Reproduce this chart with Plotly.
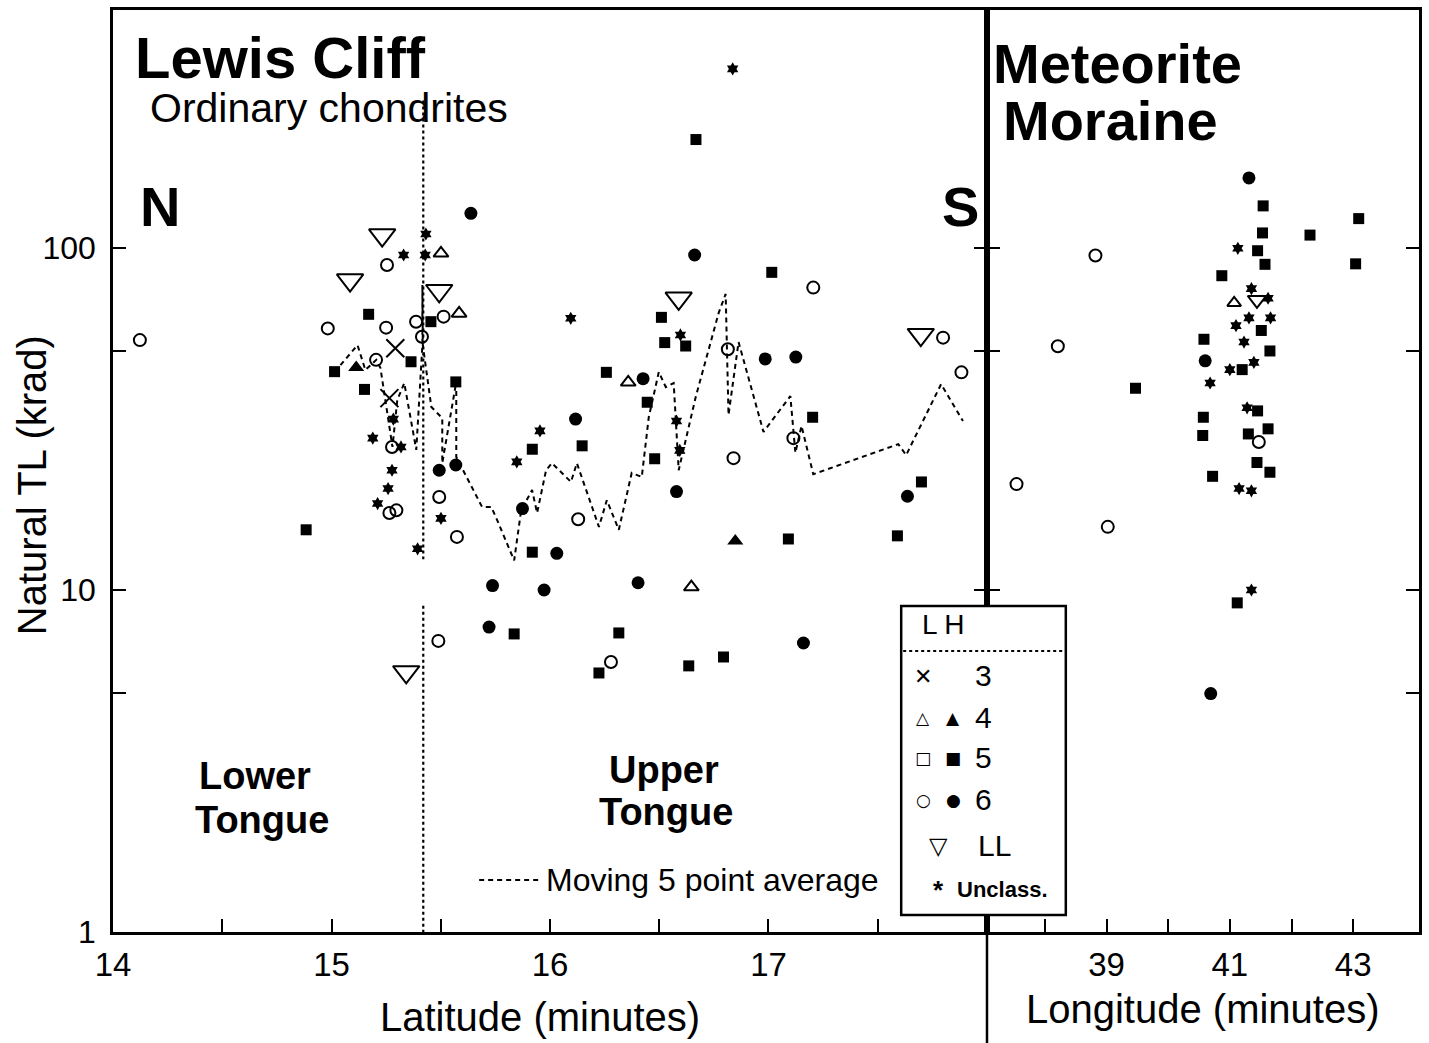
import plotly.graph_objects as go

# ---------------- DATA ----------------
# Lewis Cliff: latitude (minutes) vs natural TL (krad)
lc_t3_lat = [15.292, 15.265]
lc_t3_val = [50.9, 36.4]

lc_L4_lat = [15.501, 15.584, 16.358, 16.647]
lc_L4_val = [96.5, 64.4, 40.5, 10.2]

lc_H4_lat = [15.113, 16.848]
lc_H4_val = [44.7, 13.9]

lc_H5_lat = [14.884, 15.014, 15.151, 15.170, 15.364, 15.455, 15.569, 15.919, 15.919, 15.836,
             16.147, 16.258, 16.315, 16.224, 16.445, 16.479, 16.510, 16.525, 16.621, 16.668,
             16.635, 16.794, 17.015, 17.091, 17.202, 17.590, 17.700]
lc_H5_val = [15.0, 43.5, 38.6, 64.0, 46.5, 60.9, 40.6, 25.8, 12.9, 7.44,
             26.4, 43.3, 7.49, 5.72, 35.4, 24.2, 62.7, 52.9, 51.7, 207.6,
             6.0, 6.37, 84.9, 14.1, 32.0, 14.4, 20.7]

lc_H6_lat = [15.638, 15.493, 15.569, 15.874, 16.117, 16.031, 15.737, 15.973, 15.721, 16.403,
             16.426, 16.579, 16.662, 16.985, 17.125, 17.160, 17.636]
lc_H6_val = [126.3, 22.4, 23.2, 17.3, 31.6, 12.8, 10.3, 10.0, 7.79, 10.5,
             41.5, 19.4, 95.4, 47.4, 48.0, 7.0, 18.8]

lc_L6_lat = [14.123, 14.983, 15.250, 15.254, 15.204, 15.387, 15.513, 15.414, 15.277, 15.493,
             15.265, 15.297, 15.574, 15.489, 16.129, 16.279, 16.814, 16.840, 17.114, 17.205,
             17.799, 17.883]
lc_L6_val = [53.8, 58.2, 58.5, 89.2, 47.1, 60.9, 63.0, 55.0, 26.2, 18.7,
             16.8, 17.1, 14.3, 7.1, 16.1, 6.16, 50.6, 24.3, 27.8, 76.6,
             54.7, 43.3]

lc_LL_lat = [15.085, 15.232, 15.493, 15.342, 16.589, 17.697]
lc_LL_val = [80.6, 109.1, 75.0, 5.76, 71.3, 55.8]

lc_U_lat = [15.432, 15.330, 15.429, 15.283, 15.189, 15.318, 15.277, 15.259, 15.211, 15.501,
            15.394, 16.095, 15.954, 15.848, 16.597, 16.579, 16.594, 16.836]
lc_U_val = [109.9, 95.4, 95.4, 31.6, 27.8, 26.2, 22.4, 19.8, 17.9, 16.2,
            13.2, 62.3, 29.2, 23.7, 55.7, 31.2, 25.6, 334.0]

# moving 5 point average
ma_lat = [15.014, 15.119, 15.155, 15.205, 15.224, 15.279, 15.301, 15.333, 15.388, 15.416,
          15.416, 15.418, 15.457, 15.507, 15.507, 15.571, 15.571, 15.689, 15.731, 15.753,
          15.836, 15.868, 15.918, 15.941, 15.982, 16.009, 16.096, 16.123, 16.224, 16.260,
          16.315, 16.374, 16.420, 16.452, 16.498, 16.530, 16.566, 16.589, 16.667, 16.772,
          16.804, 16.817, 16.863, 16.977, 17.100, 17.123, 17.151, 17.205, 17.594, 17.630,
          17.790, 17.890]
ma_val = [43.4, 52.0, 44.0, 47.1, 44.6, 26.2, 35.9, 40.3, 25.7, 52.0,
          77.9, 52.0, 34.3, 31.8, 23.5, 40.6, 24.5, 17.5, 17.5, 16.3,
          12.2, 17.1, 19.6, 16.8, 22.4, 23.5, 20.7, 23.5, 15.3, 18.3,
          15.0, 22.0, 21.4, 32.0, 43.4, 39.2, 40.3, 22.4, 36.7, 64.6,
          73.4, 32.5, 53.1, 29.0, 36.9, 25.2, 30.2, 21.8, 26.7, 24.8,
          40.0, 31.2]

# Lower / Upper tongue boundary
boundary_lat = 15.42
boundary_upper = [270, 12.3]
boundary_lower = [9.0, 1.0]

# Meteorite Moraine: longitude (minutes) vs natural TL (krad)
mm_H6_lon = [41.31, 40.60, 40.69]
mm_H6_val = [160.3, 46.8, 4.98]

mm_H5_lon = [41.54, 43.09, 41.53, 42.30, 41.45, 41.57, 43.04, 40.87, 41.51, 40.58,
             41.65, 41.20, 39.47, 41.45, 40.57, 41.62, 40.56, 41.30, 41.44, 41.65,
             40.72, 41.12]
mm_H5_val = [132.8, 121.9, 110.7, 109.1, 98.2, 89.6, 89.9, 83.0, 57.4, 54.1,
             50.0, 44.1, 38.9, 33.4, 32.0, 29.6, 28.3, 28.6, 23.6, 22.1,
             21.5, 9.17]

mm_L6_lon = [38.82, 38.21, 41.47, 37.54, 39.02]
mm_L6_val = [95.1, 51.6, 27.1, 20.4, 15.3]

mm_LL_lon = [41.44]
mm_LL_val = [70.5]

mm_L4_lon = [41.07]
mm_L4_val = [69.1]

mm_U_lon = [41.13, 41.35, 41.62, 41.31, 41.66, 41.10, 41.23, 41.39, 41.00, 40.68,
            41.28, 41.15, 41.35, 41.35]
mm_U_val = [99.8, 76.1, 71.3, 62.5, 62.5, 59.3, 53.1, 46.3, 44.1, 40.3,
            34.1, 19.8, 19.5, 10.0]

# axis ticks
lat_ticks = [14, 14.5, 15, 15.5, 16, 16.5, 17, 17.5]
lat_ticktext = ["14", "", "15", "", "16", "", "17", ""]
lon_ticks = [38, 39, 40, 41, 42, 43]
lon_ticktext = ["", "39", "", "41", "", "43"]
tl_ticks = [1, 5, 10, 50, 100]
tl_ticktext = ["1", "", "10", "", "100"]

# ---------------- FIGURE ----------------
W, H = 1429, 1043
ML, MR, MT, MB = 113, 7, 10, 111
PW, PH = W - ML - MR, H - MT - MB
SPLIT = (989 - ML) / PW
FONT = "Liberation Sans, Arial, Helvetica, sans-serif"


def px(x):
    return (x - ML) / PW


def py(y):
    return (H - MB - y) / PH


fig = go.Figure()


def add(x, y, symbol, size, xa="x", ya="y", lw=2.0):
    fig.add_trace(go.Scatter(
        x=x, y=y, mode="markers", xaxis=xa, yaxis=ya, showlegend=False,
        marker=dict(symbol=symbol, size=size, color="black",
                    line=dict(color="black", width=lw)),
        hoverinfo="x+y"))


# moving average line
fig.add_trace(go.Scatter(x=ma_lat, y=ma_val, mode="lines", showlegend=False,
                         line=dict(color="black", width=2, dash="5px,4px")))
# boundary dotted lines
fig.add_trace(go.Scatter(x=[boundary_lat, boundary_lat], y=boundary_upper, mode="lines",
                         showlegend=False, line=dict(color="black", width=2.2, dash="dot")))
fig.add_trace(go.Scatter(x=[boundary_lat, boundary_lat], y=boundary_lower, mode="lines",
                         showlegend=False, line=dict(color="black", width=2.2, dash="dot")))

# Lewis Cliff points
add(lc_H5_lat, lc_H5_val, "square", 11, lw=0)
add(lc_H6_lat, lc_H6_val, "circle", 13, lw=0)
add(lc_L6_lat, lc_L6_val, "circle-open", 12)
add(lc_L4_lat, lc_L4_val, "triangle-up-open", 13)
add(lc_H4_lat, lc_H4_val, "triangle-up", 14, lw=0)
add(lc_LL_lat, lc_LL_val, "triangle-down-open", 23)
add(lc_t3_lat, lc_t3_val, "x-thin-open", 18)
add(lc_U_lat, lc_U_val, "hexagram", 10, lw=0)

# Meteorite Moraine points
add(mm_H5_lon, mm_H5_val, "square", 11, "x2", "y2", lw=0)
add(mm_H6_lon, mm_H6_val, "circle", 13, "x2", "y2", lw=0)
add(mm_L6_lon, mm_L6_val, "circle-open", 12, "x2", "y2")
add(mm_L4_lon, mm_L4_val, "triangle-up-open", 12, "x2", "y2")
add(mm_LL_lon, mm_LL_val, "triangle-down-open", 16, "x2", "y2")
add(mm_U_lon, mm_U_val, "hexagram", 10, "x2", "y2", lw=0)

axis_common = dict(showline=True, linecolor="black", linewidth=2.5, ticks="inside",
                   ticklen=13, tickwidth=2, tickcolor="black", showgrid=False,
                   zeroline=False, tickfont=dict(family=FONT, size=33, color="black"))

fig.update_layout(
    width=W, height=H, margin=dict(l=ML, r=MR, t=MT, b=MB),
    paper_bgcolor="white", plot_bgcolor="white", showlegend=False,
    font=dict(family=FONT, color="black"),
    xaxis=dict(domain=[0, SPLIT], range=[14, 18], tickvals=lat_ticks, ticktext=lat_ticktext,
               mirror=True, anchor="y", ticklabelstandoff=2, **axis_common),
    yaxis=dict(domain=[0, 1], type="log", range=[0, 2.696], tickvals=tl_ticks,
               ticktext=tl_ticktext, mirror="ticks", anchor="x", ticklabelstandoff=8,
               **{**axis_common, "tickfont": dict(family=FONT, size=32, color="black")}),
    xaxis2=dict(domain=[SPLIT, 1], range=[37.061, 44.068], tickvals=lon_ticks,
                ticktext=lon_ticktext, mirror=True, anchor="y2", ticklabelstandoff=2,
                **axis_common),
    yaxis2=dict(domain=[0, 1], type="log", range=[0, 2.696], tickvals=tl_ticks[1:],
                showticklabels=False, mirror="ticks", anchor="x2", **axis_common),
)

shapes = []
# divider extends below plot
shapes.append(dict(type="line", xref="paper", yref="paper", x0=SPLIT, x1=SPLIT,
                   y0=0, y1=py(1043), line=dict(color="black", width=2.5)))
# legend box
shapes.append(dict(type="rect", xref="paper", yref="paper", x0=px(903), x1=px(1068),
                   y0=py(915), y1=py(606), fillcolor="white",
                   line=dict(color="black", width=2.5), layer="above"))
shapes.append(dict(type="line", xref="paper", yref="paper", x0=px(905), x1=px(1066),
                   y0=py(651), y1=py(651), line=dict(color="black", width=2, dash="dot"),
                   layer="above"))
# moving average key line
shapes.append(dict(type="line", xref="paper", yref="paper", x0=px(480), x1=px(542),
                   y0=py(880), y1=py(880), line=dict(color="black", width=2, dash="5px,4px")))
fig.update_layout(shapes=shapes)

ann = []


def text(s, x, y, size, bold=False, xanchor="center", angle=0, family=FONT):
    ann.append(dict(text=f"<b>{s}</b>" if bold else s, xref="paper", yref="paper",
                    x=px(x), y=py(y), xanchor=xanchor, yanchor="middle", showarrow=False,
                    textangle=angle, font=dict(family=family, size=size, color="black")))


SYM = "DejaVu Sans, sans-serif"
text("Lewis Cliff", 133, 58, 58, True, "left")
text("Ordinary chondrites", 148, 108, 41, False, "left")
text("N", 160, 207, 56, True)
text("S", 962, 207, 56, True)
text("Meteorite", 993, 64, 56, True, "left")
text("Moraine", 1003, 121, 56, True, "left")
text("Lower", 255, 776, 38, True)
text("Tongue", 262, 820, 38, True)
text("Upper", 665, 770, 38, True)
text("Tongue", 667, 812, 38, True)
text("Moving 5 point average", 545, 880, 32, False, "left")
text("Natural TL (krad)", 32, 485, 40, False, "center", -90)
text("Latitude (minutes)", 541, 1017, 40)
text("Longitude (minutes)", 1206, 1009, 40)

# legend key (text glyphs)
text("L H", 945, 625, 28)
text("✕", 925, 676, 22, family=SYM)
text("3", 985, 675, 30)
text("△", 925, 718, 17, family=SYM)
text("▲", 955, 718, 17, family=SYM)
text("4", 985, 717, 30)
text("□", 925, 758, 17, family=SYM)
text("■", 955, 758, 17, family=SYM)
text("5", 985, 757, 30)
text("○", 925, 800, 17, family=SYM)
text("●", 955, 800, 17, family=SYM)
text("6", 985, 799, 30)
text("▽", 940, 846, 24, family=SYM)
text("LL", 997, 845, 30)
text("*", 940, 890, 26, True)
text("Unclass.", 1005, 889, 22, True)
fig.update_layout(annotations=ann)

fig.write_html("out.html", config={"displayModeBar": False},
               post_script="document.body.style.margin='0';"
                           "document.body.style.overflow='hidden';")
